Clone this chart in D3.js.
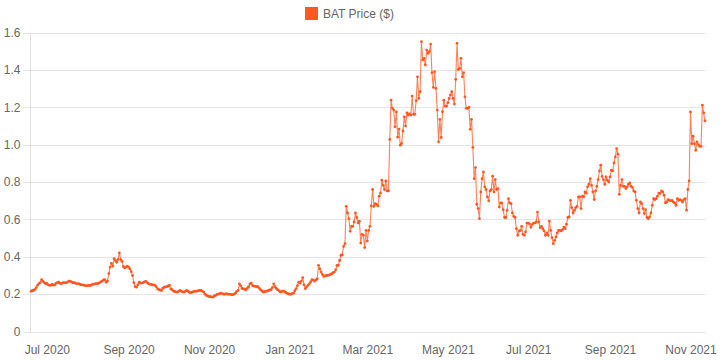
<!DOCTYPE html>
<html><head><meta charset="utf-8">
<script src="https://cdn.jsdelivr.net/npm/d3@7/dist/d3.min.js"></script>
<style>body{margin:0;background:#fff}svg{display:block}</style>
</head><body><svg id="c" width="720" height="360"></svg>
<script>
const seriesName = "BAT Price ($)";
const startDate = "2020-06-19"; // one value per day from this date
const prices = [
0.216,0.218,0.22,0.225,0.235,0.248,0.256,0.262,0.277,0.27,0.262,0.256,0.258,0.25,0.247,0.248,0.252,0.248,0.25,0.258,
0.262,0.264,0.258,0.256,0.26,0.262,0.26,0.262,0.266,0.27,0.268,0.264,0.26,0.262,0.258,0.255,0.256,0.253,0.25,0.25,
0.248,0.246,0.245,0.245,0.247,0.245,0.25,0.253,0.254,0.256,0.256,0.257,0.262,0.266,0.27,0.276,0.277,0.264,0.27,0.31,
0.345,0.364,0.35,0.39,0.38,0.37,0.385,0.42,0.385,0.375,0.348,0.34,0.345,0.35,0.345,0.335,0.32,0.3,0.262,0.24,
0.237,0.25,0.264,0.26,0.259,0.262,0.266,0.268,0.262,0.256,0.254,0.252,0.25,0.249,0.247,0.24,0.228,0.224,0.222,0.219,
0.232,0.237,0.238,0.24,0.244,0.247,0.228,0.224,0.216,0.214,0.212,0.211,0.215,0.22,0.216,0.212,0.211,0.215,0.22,0.216,
0.21,0.207,0.21,0.213,0.215,0.216,0.216,0.218,0.22,0.22,0.215,0.211,0.2,0.193,0.19,0.187,0.186,0.185,0.184,0.19,
0.193,0.198,0.2,0.202,0.205,0.203,0.2,0.2,0.202,0.2,0.2,0.199,0.198,0.197,0.2,0.205,0.215,0.22,0.255,0.245,
0.23,0.228,0.226,0.224,0.232,0.24,0.255,0.259,0.245,0.243,0.242,0.24,0.24,0.232,0.224,0.218,0.211,0.213,0.215,0.216,
0.22,0.222,0.224,0.235,0.255,0.24,0.23,0.224,0.218,0.211,0.214,0.216,0.215,0.21,0.205,0.202,0.2,0.2,0.203,0.205,
0.218,0.229,0.245,0.264,0.259,0.27,0.288,0.25,0.229,0.24,0.247,0.255,0.265,0.277,0.275,0.27,0.276,0.282,0.354,0.335,
0.318,0.305,0.294,0.298,0.3,0.3,0.302,0.305,0.309,0.315,0.318,0.33,0.354,0.354,0.38,0.408,0.41,0.455,0.47,0.67,
0.634,0.604,0.536,0.563,0.563,0.586,0.634,0.61,0.58,0.59,0.473,0.52,0.515,0.449,0.541,0.484,0.541,0.563,0.672,0.76,
0.67,0.684,0.68,0.672,0.724,0.741,0.81,0.782,0.76,0.806,0.752,0.752,1.028,1.238,1.194,1.185,1.095,1.175,1.04,1.083,
0.997,1.006,1.073,1.149,1.099,1.17,1.158,1.165,1.158,1.26,1.162,1.162,1.235,1.363,1.247,1.283,1.551,1.453,1.462,1.426,
1.506,1.488,1.497,1.538,1.385,1.306,1.39,1.301,1.185,1.015,1.135,1.038,1.176,1.238,1.206,1.206,1.224,1.247,1.265,1.283,
1.247,1.217,1.349,1.542,1.402,1.408,1.462,1.363,1.385,1.256,1.194,1.194,1.2,1.082,1.135,0.985,0.818,0.877,0.681,0.658,
0.604,0.747,0.818,0.854,0.774,0.76,0.72,0.699,0.752,0.76,0.831,0.747,0.813,0.76,0.765,0.666,0.688,0.688,0.652,0.61,
0.61,0.648,0.711,0.688,0.684,0.634,0.616,0.61,0.55,0.515,0.538,0.54,0.563,0.52,0.515,0.533,0.58,0.58,0.576,0.558,
0.572,0.58,0.58,0.586,0.639,0.586,0.556,0.563,0.55,0.538,0.515,0.527,0.515,0.59,0.541,0.502,0.47,0.488,0.506,0.527,
0.541,0.541,0.538,0.545,0.559,0.55,0.574,0.61,0.613,0.702,0.663,0.634,0.649,0.663,0.67,0.72,0.72,0.658,0.724,0.72,
0.747,0.74,0.774,0.788,0.818,0.782,0.747,0.706,0.752,0.777,0.813,0.859,0.89,0.83,0.813,0.788,0.827,0.81,0.8,0.827,
0.863,0.859,0.902,0.934,0.979,0.949,0.734,0.782,0.813,0.777,0.777,0.765,0.774,0.788,0.795,0.777,0.77,0.752,0.747,0.702,
0.658,0.634,0.693,0.684,0.658,0.631,0.652,0.61,0.604,0.613,0.634,0.675,0.711,0.706,0.711,0.724,0.741,0.738,0.752,0.747,
0.729,0.688,0.693,0.706,0.702,0.699,0.702,0.693,0.688,0.675,0.711,0.702,0.706,0.702,0.693,0.706,0.711,0.649,0.76,0.806,
1.175,1.005,1.045,1.005,0.97,1.015,1.0,0.991,0.991,1.211,1.17,1.127
];
const yTicks = [0, 0.2, 0.4, 0.6, 0.8, 1.0, 1.2, 1.4, 1.6];
const yTickLabels = ["0","0.2","0.4","0.6","0.8","1.0","1.2","1.4","1.6"];
const xTickDates = ["2020-07-01","2020-09-01","2020-11-01","2021-01-01","2021-03-01","2021-05-01","2021-07-01","2021-09-01","2021-11-01"];
const xTickLabels = ["Jul 2020","Sep 2020","Nov 2020","Jan 2021","Mar 2021","May 2021","Jul 2021","Sep 2021","Nov 2021"];

const parse = d3.utcParse("%Y-%m-%d");
const t0 = parse(startDate);
const data = prices.map((v, i) => ({date: d3.utcDay.offset(t0, i), value: v}));

const color = "#ff5722";
const font = "'Liberation Sans', Arial, Helvetica, sans-serif";
const svg = d3.select("#c");
const L = 30.5, R = 705, T = 32.5, B = 331.5;
const x = d3.scaleUtc().domain([data[0].date, data[data.length-1].date]).range([31, 705]);
const y = d3.scaleLinear().domain([0, 1.6]).range([B, T]);

// grid + y axis
const yAxis = d3.axisLeft(y).tickValues(yTicks).tickSize(-(R - L + 1)).tickPadding(10)
  .tickFormat((d, i) => yTickLabels[i]);
const gy = svg.append("g").attr("transform", `translate(${L},0)`).call(yAxis);
gy.select(".domain").remove();
gy.selectAll(".tick line").attr("x1", -8).attr("stroke", "#e6e6e6").attr("shape-rendering", "crispEdges");
gy.selectAll(".tick text").attr("fill", "#666").attr("font-family", font).attr("font-size", 12).attr("x", -10);
// left axis line
svg.append("line").attr("x1", L).attr("x2", L).attr("y1", T).attr("y2", B)
  .attr("stroke", "#e0e0e0").attr("shape-rendering", "crispEdges");

// x axis labels
const xAxis = d3.axisBottom(x).tickValues(xTickDates.map(parse)).tickSize(0).tickPadding(14)
  .tickFormat((d, i) => xTickLabels[i]);
const gx = svg.append("g").attr("transform", `translate(0,${B})`).call(xAxis);
gx.select(".domain").remove();
gx.selectAll(".tick text").attr("fill", "#666").attr("font-family", font).attr("font-size", 12);

// line
const line = d3.line().x(d => x(d.date)).y(d => y(d.value));
svg.append("path").datum(data).attr("d", line).attr("fill", "none")
  .attr("stroke", color).attr("stroke-opacity", 0.75).attr("stroke-width", 1.1);
svg.append("g").selectAll("circle").data(data).join("circle")
  .attr("cx", d => x(d.date)).attr("cy", d => y(d.value)).attr("r", 1.4)
  .attr("fill", color);

// legend
const lg = svg.append("g");
lg.append("rect").attr("x", 305).attr("y", 7).attr("width", 13).attr("height", 13).attr("fill", color);
lg.append("text").attr("x", 323).attr("y", 18).attr("fill", "#666").attr("font-family", font)
  .attr("font-size", 12).text(seriesName);
</script></body></html>
